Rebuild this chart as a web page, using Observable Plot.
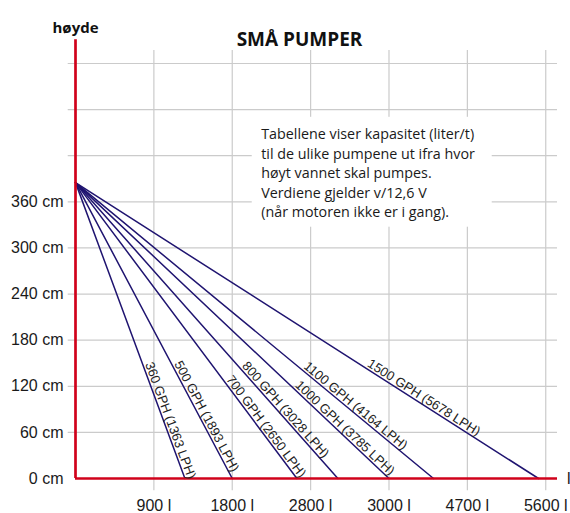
<!DOCTYPE html>
<html><head><meta charset="utf-8">
<script src="https://cdn.jsdelivr.net/npm/d3@7"></script>
<script src="https://cdn.jsdelivr.net/npm/@observablehq/plot@0.6"></script>
<style>body{margin:0;background:#fff}</style>
</head><body><div id="chart"></div>
<script>
// ---- data ----
const title = "SMÅ PUMPER";
const yTitle = "høyde";
const note = "Tabellene viser kapasitet (liter/t)\ntil de ulike pumpene ut ifra hvor\nhøyt vannet skal pumpes.\nVerdiene gjelder v/12,6 V\n(når motoren ikke er i gang).";
const pumps = ["360 GPH (1363 LPH)", "500 GPH (1893 LPH)", "700 GPH (2650 LPH)", "800 GPH (3028 LPH)", "1000 GPH (3785 LPH)", "1100 GPH (4164 LPH)", "1500 GPH (5678 LPH)"];
const flowAtZeroHead = [1.396, 2.0, 2.825, 3.348, 4.0, 4.568, 5.908]; // position on flow axis (grid steps)
const maxHead = 385; // cm, shut-off head shared by all pumps
const heightTicks = [0, 60, 120, 180, 240, 300, 360];
const gridHeights = [60, 120, 180, 240, 300, 360, 420, 480, 540];
const flowTicks = [1, 2, 3, 4, 5, 6];
const flowTickLabels = ["900 l", "1800 l", "2800 l", "3000 l", "4700 l", "5600 l"];

// ---- layout ----
const W = 570, H = 513, ML = 75, MR = 13, MT = 63, MB = 35;
const xDom = [0, 6.15], yDom = [0, 540];
const kx = (W - ML - MR) / (xDom[1] - xDom[0]);
const ky = (H - MT - MB) / (yDom[1] - yDom[0]);
const labelHeads = [148, 148, 127, 144, 118, 142, 144];
const labelGap = 6.5; // px, perpendicular offset of label anchor from its line

const segs = pumps.flatMap((p, i) => [
  {pump: p, x: 0, y: maxHead},
  {pump: p, x: flowAtZeroHead[i], y: 0}
]);
const labels = pumps.map((p, i) => {
  const h = labelHeads[i];
  const th = Math.atan2(maxHead * ky, flowAtZeroHead[i] * kx);
  return {
    text: p,
    x: flowAtZeroHead[i] * (1 - h / maxHead) + labelGap * Math.sin(th) / kx,
    y: h + labelGap * Math.cos(th) / ky,
    r: th * 180 / Math.PI
  };
});

const RED = "#d0021b", NAVY = "#1f1470", GRID = "#cbcbcb";
const SANS = "Liberation Sans, Arial, sans-serif";
const HUM = "Open Sans, sans-serif";

const chart = Plot.plot({
  width: W, height: H,
  marginLeft: ML, marginRight: MR, marginTop: MT, marginBottom: MB,
  x: {domain: xDom},
  y: {domain: yDom},
  style: {fontFamily: SANS, fontSize: "16px", background: "white", color: "#1a1a1a"},
  marks: [
    Plot.ruleX(flowTicks, {x: d => d, y1: () => -16, y2: () => 557, stroke: GRID, strokeWidth: 1.2}),
    Plot.ruleY(gridHeights, {y: d => d, x1: () => -0.093, x2: () => xDom[1], stroke: GRID, strokeWidth: 1.2}),
    Plot.rect([0], {x1: () => 2.255, x2: () => 5.317, y1: () => 327, y2: () => 470, fill: "white"}),
    Plot.line(segs, {x: "x", y: "y", z: "pump", stroke: NAVY, strokeWidth: 1.5}),
    Plot.ruleX([0], {y1: () => 0, y2: () => 571, stroke: RED, strokeWidth: 2.7}),
    Plot.ruleY([0], {x1: () => 0, x2: () => xDom[1], stroke: RED, strokeWidth: 2.7}),
    Plot.text(labels, {x: "x", y: "y", text: "text", rotate: "r", textAnchor: "start", lineAnchor: "middle", fontSize: 13, fill: "#222", fontFamily: SANS}),
    Plot.text([note], {frameAnchor: "top-left", dx: 185.7, dy: 61.5, text: d => d, textAnchor: "start", lineAnchor: "top", lineHeight: 1.37, fontSize: 14.3, fontFamily: HUM, fill: "#1a1a1a"}),
    Plot.text([title], {frameAnchor: "top", dx: -17, dy: -31, text: d => d, fontSize: 19, fontWeight: "bold", fontFamily: HUM, fill: "#111"}),
    Plot.text([yTitle], {frameAnchor: "top-left", dx: 0, dy: -41, text: d => d, textAnchor: "middle", fontSize: 15, fontWeight: "bold", fontFamily: HUM, fill: "#111"}),
    Plot.text(["l"], {frameAnchor: "bottom-right", dx: 9.5, text: d => d, textAnchor: "start", lineAnchor: "middle", fontSize: 16, fill: "#1a1a1a"}),
    Plot.axisY({ticks: heightTicks, tickFormat: d => `${d} cm`, tickSize: 0, tickPadding: 12, fontSize: 16, label: null}),
    Plot.axisX({ticks: flowTicks, tickFormat: d => flowTickLabels[d - 1], tickSize: 0, tickPadding: 21, fontSize: 16, label: null})
  ]
});
document.getElementById("chart").append(chart);
</script>
</body></html>
